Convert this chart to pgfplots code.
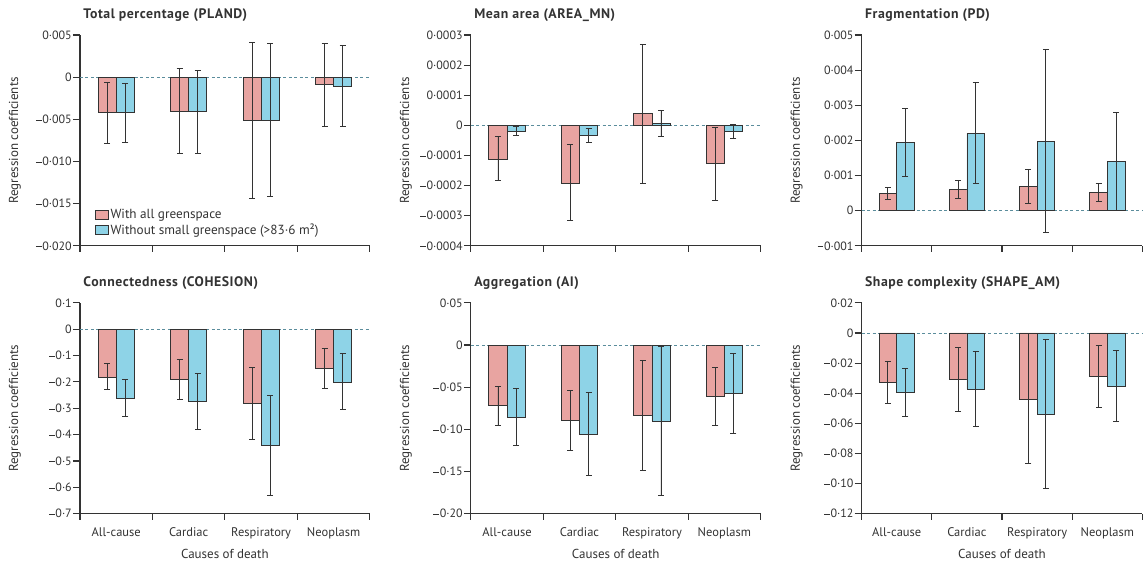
\documentclass[border=0pt]{standalone}
\usepackage{fontspec}
\setmainfont{PT Sans}
\usepackage{pgfplots}
\pgfplotsset{compat=1.18}
\usepackage{pgfplotstable}

\definecolor{withall}{HTML}{E8A4A1}
\definecolor{without}{HTML}{8ED3E7}
\definecolor{zeroline}{HTML}{5B8D9C}
\definecolor{ink}{HTML}{333333}

% x = cause (1 all-cause, 2 cardiac, 3 respiratory, 4 neoplasm)
% w* = with all greenspace, o* = without small greenspace; y, lower, upper
\pgfplotstableread{
x wy wlo whi oy olo ohi
1 -0.0042 -0.0078 -0.0006 -0.0042 -0.0077 -0.0007
2 -0.0041 -0.0091 0.0010 -0.0041 -0.0091 0.0008
3 -0.0051 -0.0144 0.0041 -0.0051 -0.0141 0.0040
4 -0.0009 -0.0058 0.0040 -0.0011 -0.0059 0.0037
}\tabPLAND
\pgfplotstableread{
x wy wlo whi oy olo ohi
1 -0.000112 -0.000183 -0.000038 -0.000020 -0.000032 -0.000002
2 -0.000191 -0.000316 -0.000064 -0.000033 -0.000058 -0.000009
3 0.000040 -0.000194 0.000270 0.000005 -0.000038 0.000051
4 -0.000126 -0.000248 -0.000006 -0.000020 -0.000044 0.000002
}\tabAREA
\pgfplotstableread{
x wy wlo whi oy olo ohi
1 0.00049 0.00032 0.00065 0.00195 0.00098 0.00291
2 0.00061 0.00034 0.00086 0.00220 0.00077 0.00364
3 0.00070 0.00020 0.00118 0.00198 -0.00062 0.00459
4 0.00052 0.00027 0.00077 0.00140 0.00000 0.00279
}\tabPD
\pgfplotstableread{
x wy wlo whi oy olo ohi
1 -0.181 -0.230 -0.129 -0.261 -0.330 -0.189
2 -0.191 -0.268 -0.113 -0.275 -0.382 -0.167
3 -0.282 -0.418 -0.146 -0.440 -0.630 -0.252
4 -0.149 -0.224 -0.072 -0.200 -0.306 -0.092
}\tabCOH
\pgfplotstableread{
x wy wlo whi oy olo ohi
1 -0.0721 -0.0951 -0.0487 -0.0860 -0.1189 -0.0519
2 -0.0895 -0.1244 -0.0543 -0.1058 -0.1550 -0.0567
3 -0.0836 -0.1486 -0.0178 -0.0903 -0.1780 -0.0012
4 -0.0610 -0.0951 -0.0265 -0.0578 -0.1054 -0.0095
}\tabAI
\pgfplotstableread{
x wy wlo whi oy olo ohi
1 -0.0328 -0.0468 -0.0186 -0.0397 -0.0554 -0.0233
2 -0.0308 -0.0523 -0.0095 -0.0375 -0.0621 -0.0124
3 -0.0439 -0.0869 -0.0004 -0.0539 -0.1029 -0.0044
4 -0.0286 -0.0492 -0.0080 -0.0353 -0.0590 -0.0113
}\tabSHAPE

\newcommand{\ytickfont}{\fontsize{12}{14}\selectfont}
\newcommand{\xtickfont}{\fontsize{12.5}{14}\selectfont}
\newcommand{\labfont}{\fontsize{13}{15}\selectfont}
\newcommand{\legfont}{\fontsize{13.2}{15}\selectfont}
\newcommand{\titfont}{\fontsize{13.8}{16}\selectfont\bfseries\addfontfeature{LetterSpace=4}}
% minus sign of the tick labels
\newcommand{\mn}{\rule[0.25em]{0.48em}{0.07em}\kern0.06em}

\pgfplotsset{
  panel/.style={
    scale only axis, width=290pt, height=211pt,
    axis lines*=left,
    axis line style={ink, line width=1.1pt},
    xmin=0.5, xmax=4.5,
    xtick={1,2,3,4}, xticklabels={,,,},
    major x tick style={draw=none},
    minor xtick={0.5,1.5,2.5,3.5,4.5},
    minor x tick style={ink, line width=1.1pt},
    y tick style={ink, line width=1.1pt},
    scaled y ticks=false,
    tick align=outside,
    major tick length=7pt, minor tick length=6pt,
    yticklabel style={font=\ytickfont, text=ink, inner sep=1pt},
    xticklabel style={font=\xtickfont, text=ink, yshift=-3pt},
    xlabel style={font=\labfont, text=ink, yshift=-4pt},
    ylabel={Regression coefficients},
    every axis y label/.style={at={([xshift=-65pt]axis description cs:0,0.5)}, rotate=90,
      anchor=center, font=\labfont, text=ink},
    title style={at={(axis description cs:0,1)}, anchor=base west, yshift=10pt,
      font=\titfont, text=ink},
    clip=false,
  },
  bottomrow/.style={
    xticklabels={All-cause,Cardiac,Respiratory,Neoplasm},
    xlabel={Causes of death},
  },
  barw/.style={ybar, bar width=0.25, bar shift=0pt, fill=withall, draw=ink, line width=0.8pt,
    error bars/.cd, y dir=both, y explicit,
    error bar style={ink, line width=0.9pt},
    error mark options={ink, line width=0.9pt, mark size=3pt, rotate=90}},
  baro/.style={ybar, bar width=0.25, bar shift=0pt, fill=without, draw=ink, line width=0.8pt,
    error bars/.cd, y dir=both, y explicit,
    error bar style={ink, line width=0.9pt},
    error mark options={ink, line width=0.9pt, mark size=3pt, rotate=90}},
  zl/.style={zeroline, line width=0.9pt, dash pattern=on 3pt off 2.5pt, forget plot},
}

\newcommand{\bars}[1]{%
  \addplot[zl] coordinates {(0.5,0) (4.5,0)};
  \addplot[barw] table[x expr=\thisrow{x}-0.125, y=wy,
    y error plus expr=\thisrow{whi}-\thisrow{wy},
    y error minus expr=\thisrow{wy}-\thisrow{wlo}] #1;
  \addplot[baro] table[x expr=\thisrow{x}+0.125, y=oy,
    y error plus expr=\thisrow{ohi}-\thisrow{oy},
    y error minus expr=\thisrow{oy}-\thisrow{olo}] #1;
}

\begin{document}
\begin{tikzpicture}
% page margins of the reference figure
\path (-80pt,246pt) (1063pt,-313pt);

\begin{axis}[panel, at={(0pt,0pt)}, anchor=south west,
  title={Total percentage (PLAND)},
  ymin=-0.020, ymax=0.005,
  ytick={-0.020,-0.015,-0.010,-0.005,0,0.005},
  yticklabels={\mn0·020,\mn0·015,\mn0·010,\mn0·005,0,0·005},
  legend style={at={(0.04,0.025)}, anchor=south west, draw=none, fill=none,
    font=\legfont, text=ink, row sep=0pt},
  legend cell align=left,
  legend image code/.code={\draw[#1, line width=0.8pt] (0pt,-4.5pt) rectangle (13pt,4.5pt);},
]
\bars{\tabPLAND}
\addlegendentry{With all greenspace}
\addlegendentry{Without small greenspace (>83·6 m²)}
\end{axis}

\begin{axis}[panel, at={(391pt,0pt)}, anchor=south west,
  title={Mean area (AREA\_MN)},
  ymin=-0.0004, ymax=0.0003,
  ytick={-0.0004,-0.0003,-0.0002,-0.0001,0,0.0001,0.0002,0.0003},
  yticklabels={\mn0·0004,\mn0·0003,\mn0·0002,\mn0·0001,0,0·0001,0·0002,0·0003},
]
\bars{\tabAREA}
\end{axis}

\begin{axis}[panel, width=281pt, at={(782pt,0pt)}, anchor=south west,
  title={Fragmentation (PD)},
  ymin=-0.001, ymax=0.005,
  ytick={-0.001,0,0.001,0.002,0.003,0.004,0.005},
  yticklabels={\mn0·001,0,0·001,0·002,0·003,0·004,0·005},
]
\bars{\tabPD}
\end{axis}

\begin{axis}[panel, bottomrow, at={(0pt,-268pt)}, anchor=south west,
  title={Connectedness (COHESION)},
  ymin=-0.7, ymax=0.1,
  ytick={-0.7,-0.6,-0.5,-0.4,-0.3,-0.2,-0.1,0,0.1},
  yticklabels={\mn0·7,\mn0·6,\mn0·5,\mn0·4,\mn0·3,\mn0·2,\mn0·1,0,0·1},
]
\bars{\tabCOH}
\end{axis}

\begin{axis}[panel, bottomrow, at={(391pt,-268pt)}, anchor=south west,
  title={Aggregation (AI)},
  ymin=-0.20, ymax=0.05,
  ytick={-0.20,-0.15,-0.10,-0.05,0,0.05},
  yticklabels={\mn0·20,\mn0·15,\mn0·10,\mn0·05,0,0·05},
]
\bars{\tabAI}
\end{axis}

\begin{axis}[panel, bottomrow, width=281pt, at={(782pt,-268pt)}, anchor=south west,
  title={Shape complexity (SHAPE\_AM)},
  ymin=-0.12, ymax=0.02,
  ytick={-0.12,-0.10,-0.08,-0.06,-0.04,-0.02,0,0.02},
  yticklabels={\mn0·12,\mn0·10,\mn0·08,\mn0·06,\mn0·04,\mn0·02,0,0·02},
]
\bars{\tabSHAPE}
\end{axis}
\end{tikzpicture}
\end{document}
